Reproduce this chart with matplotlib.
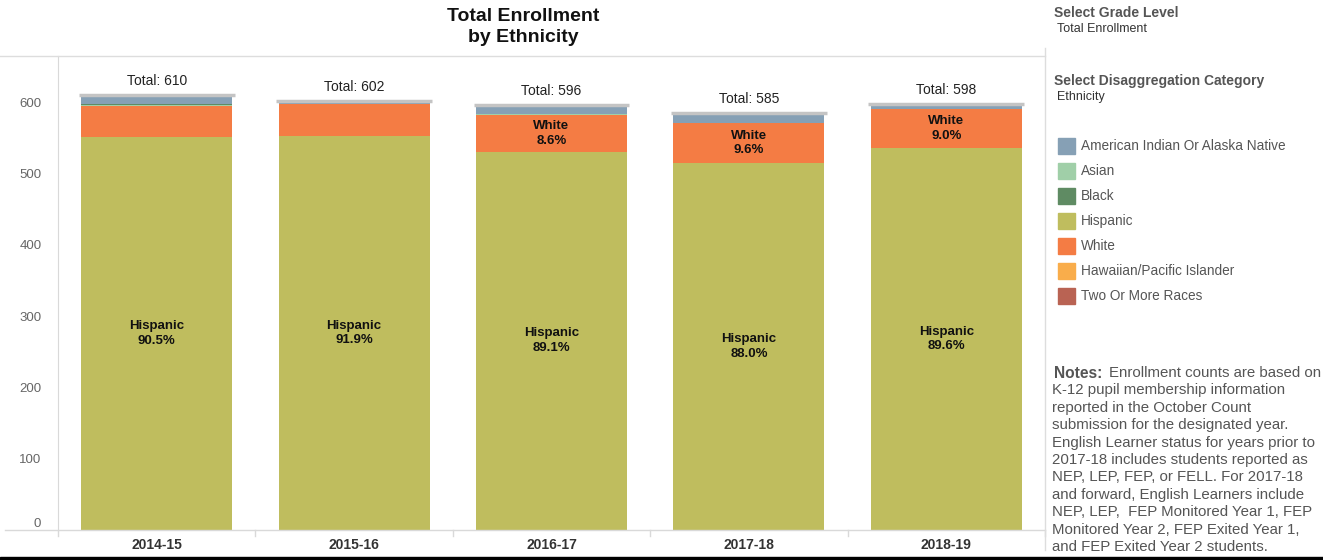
import matplotlib.pyplot as plt
from matplotlib.lines import Line2D
from matplotlib.patches import Rectangle

plt.rcParams['font.family'] = ['Liberation Sans', 'DejaVu Sans']

# data (student counts)
years = ['2014-15', '2015-16', '2016-17', '2017-18', '2018-19']
groups = ['American Indian Or Alaska Native', 'Asian', 'Black', 'Hispanic',
          'White', 'Hawaiian/Pacific Islander', 'Two Or More Races']
colors = ['#86a0b5', '#a0cfa8', '#5f8b63', '#bfbd5e', '#f47c44', '#f9ad4b', '#b96353']
am_indian = [11, 4, 12, 13, 7]
asian = [1, 0, 1, 0, 1]
black = [1, 0, 0, 0, 0]
hispanic = [552, 553, 531, 515, 536]
white = [43, 44, 51, 56, 54]
hawaiian = [0, 0, 0, 0, 0]
two_more = [2, 1, 1, 1, 0]

values = dict(zip(groups, [am_indian, asian, black, hispanic, white, hawaiian, two_more]))
stack_order = ['Hispanic', 'White', 'Asian', 'Black', 'Hawaiian/Pacific Islander',
               'American Indian Or Alaska Native', 'Two Or More Races']
totals = [sum(values[g][i] for g in groups) for i in range(len(years))]

W, H = 1323, 560
fig = plt.figure(figsize=(W / 100, H / 100), dpi=100)
ax = fig.add_axes([58 / W, 1 - 530 / H, (1045 - 58) / W, (530 - 56) / H])

x = list(range(len(years)))
bw = 0.765
bottom = [0] * len(years)
for g in stack_order:
    v = values[g]
    c = colors[groups.index(g)]
    ax.bar(x, v, bw, bottom=bottom, color=c, edgecolor='none')
    for i in x:
        pct = v[i] / totals[i] * 100
        if pct > 8:
            ax.text(i, bottom[i] + v[i] / 2, '%s\n%.1f%%' % (g, pct), ha='center', va='center',
                    fontsize=9.5, fontweight='bold', color='#111111', linespacing=1.3)
    bottom = [b + vi for b, vi in zip(bottom, v)]

# grey total caps and labels
for i in x:
    ax.hlines(totals[i], i - bw / 2 - 0.012, i + bw / 2 + 0.012, color='#c4c4c4', lw=2.5)
    ax.annotate('Total: %d' % totals[i], (i, totals[i]), xytext=(0, 5), textcoords='offset points',
                ha='center', va='bottom', fontsize=10, color='#222222')

ax.set_xlim(-0.5, len(years) - 0.5)
ax.set_ylim(0, 665)
ax.set_yticks(range(0, 700, 100))
ax.set_xticks(x)
ax.set_xticklabels(years, fontsize=10, fontweight='bold', color='#333333')
ax.tick_params(axis='y', length=0, labelsize=9.5, labelcolor='#666666', pad=12)
ax.tick_params(axis='x', length=0, pad=6)
ax.get_yticklabels()[0].set_va('bottom')
for s in ['top', 'right']:
    ax.spines[s].set_visible(False)
ax.spines['left'].set_color('#d9d9d9')
ax.spines['bottom'].set_visible(False)

# category separators below the axis
for i in range(len(years) + 1):
    ax.plot([i - 0.5, i - 0.5], [0, -0.012], color='#d9d9d9', lw=1, transform=ax.get_xaxis_transform(),
            clip_on=False)

# frame lines around the chart area
fig.add_artist(Line2D([0, 1045 / W], [1 - 56 / H, 1 - 56 / H], color='#dddddd', lw=1))
fig.add_artist(Line2D([5 / W, 1045 / W], [1 - 530 / H, 1 - 530 / H], color='#d9d9d9', lw=1))
fig.add_artist(Line2D([1045 / W, 1045 / W], [1 - 48 / H, 1 - 550 / H], color='#dddddd', lw=1))
fig.add_artist(Rectangle((0, 0), 1, 3 / H, color='black', transform=fig.transFigure))

fig.text(523 / W, 1 - 27 / H, 'Total Enrollment\nby Ethnicity', ha='center', va='center',
         fontsize=14, fontweight='bold', color='#111111', linespacing=1.25)

# right panel
fig.text(1054 / W, 1 - 13 / H, 'Select Grade Level', fontsize=10, fontweight='bold',
         color='#555555', va='center')
fig.text(1057 / W, 1 - 29 / H, 'Total Enrollment', fontsize=9, color='#333333', va='center')
fig.text(1054 / W, 1 - 81 / H, 'Select Disaggregation Category', fontsize=10, fontweight='bold',
         color='#555555', va='center')
fig.text(1057 / W, 1 - 97 / H, 'Ethnicity', fontsize=9, color='#333333', va='center')
for k, g in enumerate(groups):
    yc = 146 + 25 * k
    fig.add_artist(Rectangle((1058 / W, 1 - (yc + 8) / H), 17 / W, 16 / H, color=colors[k],
                             transform=fig.transFigure))
    fig.text(1081 / W, 1 - yc / H, g, fontsize=9.8, color='#555555', va='center')

notes = ['Enrollment counts are based on',
         'K-12 pupil membership information',
         'reported in the October Count',
         'submission for the designated year.',
         'English Learner status for years prior to',
         '2017-18 includes students reported as',
         'NEP, LEP, FEP, or FELL. For 2017-18',
         'and forward, English Learners include',
         'NEP, LEP,  FEP Monitored Year 1, FEP',
         'Monitored Year 2, FEP Exited Year 1,',
         'and FEP Exited Year 2 students.']
fig.text(1054 / W, 1 - 373 / H, 'Notes:', fontsize=11.2, fontweight='bold', color='#555555', va='center')
for k, line in enumerate(notes):
    xx = 1109 if k == 0 else 1052
    fig.text(xx / W, 1 - (373 + 17.4 * k) / H, line, fontsize=10.8, color='#555555', va='center')

fig.savefig('out.png', dpi=100)
